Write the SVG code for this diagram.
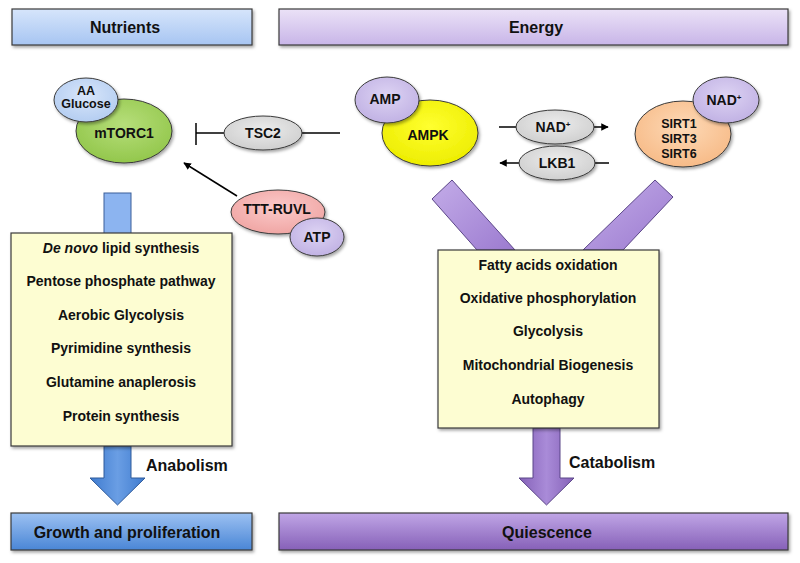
<svg xmlns="http://www.w3.org/2000/svg" width="800" height="563" viewBox="0 0 800 563">
<defs>
<linearGradient id="gNut" x1="0" y1="0" x2="0" y2="1"><stop offset="0" stop-color="#d6e5fb"/><stop offset="1" stop-color="#a7c5f2"/></linearGradient>
<linearGradient id="gEn" x1="0" y1="0" x2="0" y2="1"><stop offset="0" stop-color="#ebe2f7"/><stop offset="1" stop-color="#c8b5e8"/></linearGradient>
<linearGradient id="gGrow" x1="0" y1="0" x2="0" y2="1"><stop offset="0" stop-color="#9cc1f2"/><stop offset="1" stop-color="#4a86d6"/></linearGradient>
<linearGradient id="gQui" x1="0" y1="0" x2="0" y2="1"><stop offset="0" stop-color="#c0a6e6"/><stop offset="1" stop-color="#8660b8"/></linearGradient>
<linearGradient id="gBlueArr" x1="0" y1="0" x2="1" y2="0"><stop offset="0" stop-color="#3f7bcf"/><stop offset="0.5" stop-color="#6a9ee4"/><stop offset="1" stop-color="#3f7bcf"/></linearGradient>
<linearGradient id="gPurArr" x1="0" y1="0" x2="1" y2="0"><stop offset="0" stop-color="#8561b8"/><stop offset="0.5" stop-color="#a98bd8"/><stop offset="1" stop-color="#8561b8"/></linearGradient>
<linearGradient id="gPurBar" x1="0" y1="0" x2="1" y2="1"><stop offset="0" stop-color="#c3ace8"/><stop offset="1" stop-color="#9c7bd0"/></linearGradient>
<radialGradient id="gGreen" cx="0.5" cy="0.4" r="0.6"><stop offset="0" stop-color="#b6de7a"/><stop offset="1" stop-color="#93c74c"/></radialGradient>
<radialGradient id="gYellow" cx="0.5" cy="0.4" r="0.6"><stop offset="0" stop-color="#ffff30"/><stop offset="1" stop-color="#eded00"/></radialGradient>
<radialGradient id="gGrey" cx="0.5" cy="0.4" r="0.6"><stop offset="0" stop-color="#ececec"/><stop offset="1" stop-color="#cfcfcf"/></radialGradient>
<radialGradient id="gLav" cx="0.5" cy="0.4" r="0.6"><stop offset="0" stop-color="#ddd3f3"/><stop offset="1" stop-color="#c1b2e4"/></radialGradient>
<radialGradient id="gBlueE" cx="0.5" cy="0.4" r="0.6"><stop offset="0" stop-color="#d8e6fa"/><stop offset="1" stop-color="#b4cdf1"/></radialGradient>
<radialGradient id="gPink" cx="0.5" cy="0.4" r="0.6"><stop offset="0" stop-color="#fbcaca"/><stop offset="1" stop-color="#f0a6a4"/></radialGradient>
<radialGradient id="gPeach" cx="0.5" cy="0.4" r="0.6"><stop offset="0" stop-color="#fdd9b6"/><stop offset="1" stop-color="#f7bb88"/></radialGradient>
<filter id="sh" x="-10%" y="-10%" width="130%" height="140%"><feDropShadow dx="1.5" dy="2" stdDeviation="1.5" flood-color="#000" flood-opacity="0.35"/></filter>
<marker id="ah" viewBox="0 0 10 10" refX="9" refY="5" markerWidth="5" markerHeight="5" orient="auto"><path d="M0,0 L10,5 L0,10 Z" fill="#000"/></marker>
</defs>
<style>
text{font-family:"Liberation Sans",Arial,sans-serif;font-weight:bold;fill:#111;text-anchor:middle}
.hdr{font-size:16px}
.lst{font-size:14px}
.nd{font-size:14px}
.sm{font-size:12.5px}
.box{stroke:#3a3a3a;stroke-width:1.2}
.el{stroke:#3a3a3a;stroke-width:1}
.ln{stroke:#000;stroke-width:1.5;fill:none}
</style>

<g id="header-nutrients"><rect class="box" x="12" y="9" width="240" height="36" fill="url(#gNut)" filter="url(#sh)"/><text class="hdr" x="125" y="33">Nutrients</text></g>
<g id="header-energy"><rect class="box" x="279" y="9" width="509" height="36" fill="url(#gEn)" filter="url(#sh)"/><text class="hdr" x="536" y="33">Energy</text></g>

<g id="connectors">
<rect x="104" y="193" width="27" height="41" fill="#8cb4f0" stroke="#3a5f99" stroke-width="1"/>
<polygon points="432,199 452,180 515,250 477,250" fill="url(#gPurBar)" stroke="#5b4688" stroke-width="1"/>
<polygon points="655,180 673,197 623,250 583,250" fill="url(#gPurBar)" stroke="#5b4688" stroke-width="1"/>
<polygon points="104,446 131,446 131,478 145,478 117.5,505 90,478 104,478" fill="url(#gBlueArr)" stroke="#2e5a9a" stroke-width="1"/>
<polygon points="533,428 560,428 560,478 574,478 546.5,505 519,478 533,478" fill="url(#gPurArr)" stroke="#5b4688" stroke-width="1"/>
<line class="ln" x1="196" y1="133" x2="340" y2="133"/>
<line class="ln" x1="196" y1="123" x2="196" y2="145"/>
<line class="ln" x1="237" y1="196" x2="184" y2="163" marker-end="url(#ah)"/>
<line class="ln" x1="499" y1="127" x2="608" y2="127" marker-end="url(#ah)"/>
<line class="ln" x1="609" y1="163" x2="500" y2="163" marker-end="url(#ah)"/>
</g>

<g id="node-mtorc1"><ellipse class="el" cx="124" cy="131" rx="48" ry="32" fill="url(#gGreen)" filter="url(#sh)"/><text class="nd" x="124" y="138">mTORC1</text></g>
<g id="node-aa-glucose"><ellipse class="el" cx="86" cy="100" rx="32" ry="22" fill="url(#gBlueE)" filter="url(#sh)"/><text class="sm" x="86" y="95">AA</text><text class="sm" x="86" y="108">Glucose</text></g>
<g id="node-tsc2"><ellipse class="el" cx="263" cy="133" rx="39" ry="17" fill="url(#gGrey)" filter="url(#sh)"/><text class="nd" x="263" y="138">TSC2</text></g>
<g id="node-ttt-ruvl"><ellipse class="el" cx="278" cy="212" rx="47" ry="22" fill="url(#gPink)" filter="url(#sh)"/><text class="nd" x="277" y="214">TTT-RUVL</text></g>
<g id="node-atp"><ellipse class="el" cx="317" cy="237" rx="27" ry="19" fill="url(#gLav)" filter="url(#sh)"/><text class="nd" x="317" y="242">ATP</text></g>
<g id="node-ampk"><ellipse class="el" cx="430" cy="133" rx="48" ry="33" fill="url(#gYellow)" filter="url(#sh)"/><text class="nd" x="428" y="140">AMPK</text></g>
<g id="node-amp"><ellipse class="el" cx="387" cy="100" rx="32" ry="23" fill="url(#gLav)" filter="url(#sh)"/><text class="nd" x="385" y="104">AMP</text></g>
<g id="node-nad-mid"><ellipse class="el" cx="555" cy="127" rx="39" ry="17" fill="url(#gGrey)" filter="url(#sh)"/><text class="nd" x="553" y="132">NAD<tspan font-size="8" dy="-5">+</tspan></text></g>
<g id="node-lkb1"><ellipse class="el" cx="557" cy="163" rx="38" ry="17" fill="url(#gGrey)" filter="url(#sh)"/><text class="nd" x="557" y="168">LKB1</text></g>
<g id="node-sirt"><ellipse class="el" cx="683" cy="134" rx="48" ry="33" fill="url(#gPeach)" filter="url(#sh)"/><text class="sm" x="679" y="128">SIRT1</text><text class="sm" x="679" y="143">SIRT3</text><text class="sm" x="679" y="158">SIRT6</text></g>
<g id="node-nad-right"><ellipse class="el" cx="726" cy="100" rx="33" ry="23" fill="url(#gLav)" filter="url(#sh)"/><text class="nd" x="724" y="105">NAD<tspan font-size="8" dy="-5">+</tspan></text></g>

<g id="box-anabolic"><rect class="box" x="11" y="233" width="221" height="213" fill="#fdfdd2" filter="url(#sh)"/>
<text class="lst" x="121" y="253"><tspan font-style="italic">De novo</tspan> lipid synthesis</text>
<text class="lst" x="121" y="286">Pentose phosphate pathway</text>
<text class="lst" x="121" y="320">Aerobic Glycolysis</text>
<text class="lst" x="121" y="353">Pyrimidine synthesis</text>
<text class="lst" x="121" y="387">Glutamine anaplerosis</text>
<text class="lst" x="121" y="421">Protein synthesis</text></g>

<g id="box-catabolic"><rect class="box" x="438" y="250" width="221" height="178" fill="#fdfdd2" filter="url(#sh)"/>
<text class="lst" x="548" y="270">Fatty acids oxidation</text>
<text class="lst" x="548" y="303">Oxidative phosphorylation</text>
<text class="lst" x="548" y="336">Glycolysis</text>
<text class="lst" x="548" y="370">Mitochondrial Biogenesis</text>
<text class="lst" x="548" y="404">Autophagy</text></g>

<g id="label-anabolism"><text class="hdr" x="146" y="471" style="text-anchor:start">Anabolism</text></g>
<g id="label-catabolism"><text class="hdr" x="569" y="468" style="text-anchor:start">Catabolism</text></g>

<g id="footer-growth"><rect class="box" x="11" y="513" width="241" height="37" fill="url(#gGrow)" filter="url(#sh)"/><text class="hdr" x="127" y="538">Growth and proliferation</text></g>
<g id="footer-quiescence"><rect class="box" x="279" y="513" width="509" height="37" fill="url(#gQui)" filter="url(#sh)"/><text class="hdr" x="547" y="538">Quiescence</text></g>
</svg>
